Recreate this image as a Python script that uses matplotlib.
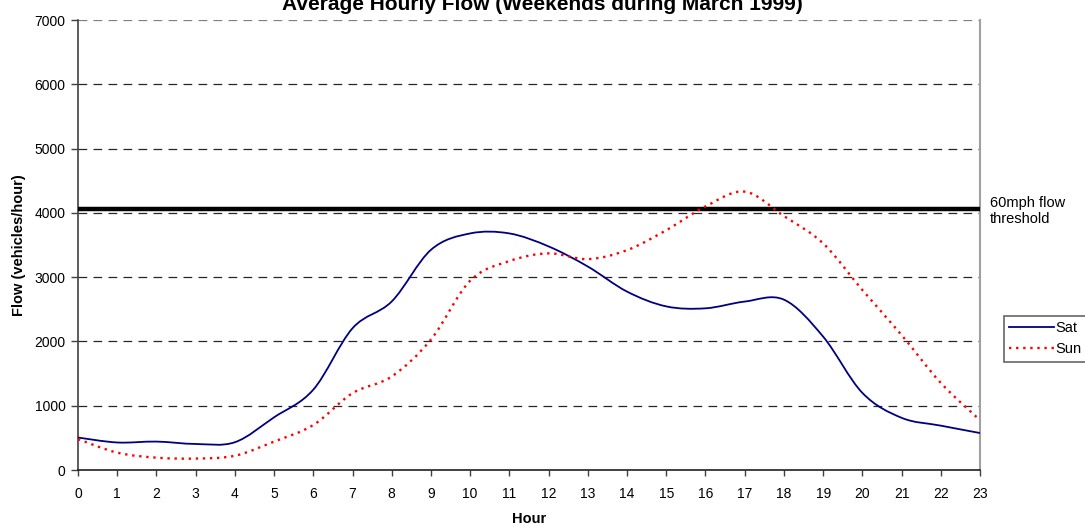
import numpy as np
import matplotlib.pyplot as plt
from matplotlib.path import Path
from matplotlib.patches import PathPatch
from matplotlib.lines import Line2D

plt.rcParams['font.family'] = ['Liberation Sans', 'DejaVu Sans']
plt.rcParams['font.size'] = 10

# Hourly flow, weekends
hours = list(range(24))
sat = [505, 428, 442, 405, 432, 820, 1250, 2205, 2622, 3425, 3680, 3680,
       3478, 3165, 2775, 2545, 2515, 2620, 2650, 2075, 1200, 812, 690, 575]
sun = [480, 270, 192, 178, 222, 442, 700, 1195, 1455, 2030, 2945, 3250,
       3370, 3280, 3420, 3730, 4100, 4330, 3950, 3525, 2800, 2100, 1355, 775]
threshold = 4060


def smooth_path(x, y):
    # Catmull-Rom tangents turned into cubic Bezier segments
    pts = np.column_stack([x, y]).astype(float)
    n = len(pts)
    verts = [pts[0]]
    codes = [Path.MOVETO]
    for i in range(n - 1):
        p0 = pts[max(i - 1, 0)]
        p1 = pts[i]
        p2 = pts[i + 1]
        p3 = pts[min(i + 2, n - 1)]
        c1 = p1 + (p2 - p0) / 6.0
        c2 = p2 - (p3 - p1) / 6.0
        verts += [c1, c2, p2]
        codes += [Path.CURVE4] * 3
    return Path(verts, codes)


fig = plt.figure(figsize=(10.85, 5.25), dpi=100)
ax = fig.add_axes([78 / 1085, 1 - 470 / 525, 902 / 1085, 450 / 525])

ax.set_xlim(0, 23)
ax.set_ylim(0, 7000)
ax.set_xticks(hours)
ax.set_yticks(range(0, 7001, 1000))

for v in range(1000, 7001, 1000):
    ax.axhline(v, color='black', lw=0.9, dashes=(7, 5), zorder=1,
               alpha=0.85 if v != 7000 else 0.5)

ax.axhline(threshold, color='black', lw=3.2, zorder=3)

sat_style = dict(color='#000080', lw=1.3)
sun_style = dict(color='#ff0000', lw=1.7, linestyle=(0, (1, 2)))

ax.add_patch(PathPatch(smooth_path(hours, sat), fill=False, zorder=4, **sat_style))
ax.add_patch(PathPatch(smooth_path(hours, sun), fill=False, zorder=4, **sun_style))

ax.spines['top'].set_visible(False)
ax.spines['right'].set_color('#a0a0a0')
ax.spines['right'].set_linewidth(1.5)
ax.spines['left'].set_color('#404040')
ax.spines['bottom'].set_color('#202020')
ax.spines['left'].set_linewidth(1.2)
ax.spines['bottom'].set_linewidth(1.2)
ax.tick_params(direction='out', length=5, width=1, color='#404040')
ax.tick_params(axis='x', pad=8, length=4)
ax.tick_params(axis='y', pad=4)

ax.set_xlabel('Hour', fontweight='bold', fontsize=10.5, labelpad=8)
ax.set_ylabel('Flow (vehicles/hour)', fontweight='bold', fontsize=10.5,
              labelpad=6)

fig.text(0.5, 1 - 10 / 525, 'Average Hourly Flow (Weekends during March 1999)',
         ha='center', va='baseline', fontsize=15, fontweight='bold')

fig.text(990 / 1085, 1 - 196 / 525, '60mph flow\nthreshold', ha='left',
         va='top', fontsize=10.5, linespacing=1.15)

handles = [Line2D([], [], **sat_style), Line2D([], [], **sun_style)]
leg = fig.legend(handles, ['Sat', 'Sun'], loc='upper left',
                 bbox_to_anchor=(1004 / 1085, 1 - 316 / 525), frameon=True,
                 fancybox=False, edgecolor='#404040', handlelength=3.1,
                 handletextpad=0.1, borderpad=0.35, labelspacing=0.5,
                 borderaxespad=0, fontsize=10.5)
leg.get_frame().set_linewidth(1.2)

fig.savefig('out.png', dpi=100)
